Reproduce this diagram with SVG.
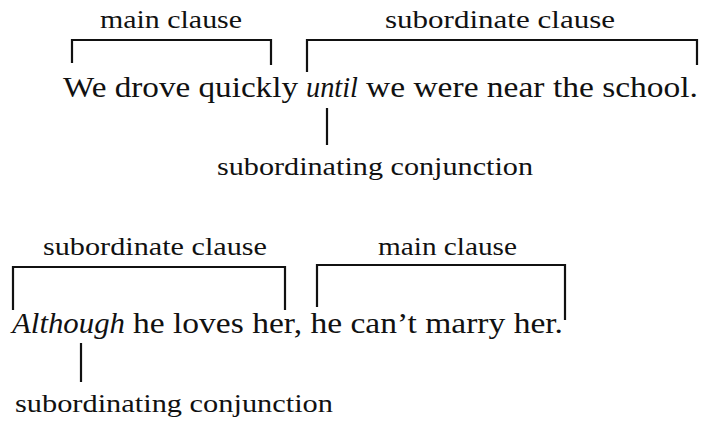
<svg xmlns="http://www.w3.org/2000/svg" width="704" height="423" viewBox="0 0 704 423">
<style>
  .lbl { font-size: 26px; }
  .sent { font-size: 30px; }
  .it { font-style: italic; }
  .br { fill: none; stroke: #111; stroke-width: 2.2; stroke-linecap: butt; stroke-linejoin: miter; }
</style>
<rect width="704" height="423" fill="#fff"/>
<g id="connectors">
  <path class="br" d="M72,63 V40 H271 V65"/>
  <path class="br" d="M307,72 V40 H697 V65"/>
  <path class="br" d="M327,108 V145"/>
  <path class="br" d="M13,310 V267 H285 V310"/>
  <path class="br" d="M317,307 V265 H565 V320"/>
  <path class="br" d="M81,343 V382"/>
</g>
<g font-family="Liberation Serif, DejaVu Serif, Noto Serif, serif" fill="#111">
<g id="label-main-1"><text class="lbl" x="100" y="28" textLength="142" lengthAdjust="spacingAndGlyphs">main clause</text></g>
<g id="label-sub-1"><text class="lbl" x="385" y="28" textLength="230" lengthAdjust="spacingAndGlyphs">subordinate clause</text></g>
<g id="sentence-1">
  <text class="sent" x="63" y="97" textLength="235" lengthAdjust="spacingAndGlyphs">We drove quickly</text>
  <text class="sent it" x="306" y="97" textLength="52" lengthAdjust="spacingAndGlyphs">until</text>
  <text class="sent" x="366" y="97" textLength="332" lengthAdjust="spacingAndGlyphs">we were near the school.</text>
</g>
<g id="label-conj-1"><text class="lbl" x="217" y="175" textLength="316" lengthAdjust="spacingAndGlyphs">subordinating conjunction</text></g>
<g id="label-sub-2"><text class="lbl" x="43" y="255" textLength="224" lengthAdjust="spacingAndGlyphs">subordinate clause</text></g>
<g id="label-main-2"><text class="lbl" x="378" y="255" textLength="139" lengthAdjust="spacingAndGlyphs">main clause</text></g>
<g id="sentence-2">
  <text class="sent it" x="12" y="333" textLength="113" lengthAdjust="spacingAndGlyphs">Although</text>
  <text class="sent" x="133" y="333" textLength="430" lengthAdjust="spacingAndGlyphs">he loves her, he can’t marry her.</text>
</g>
<g id="label-conj-2"><text class="lbl" x="15" y="412" textLength="318" lengthAdjust="spacingAndGlyphs">subordinating conjunction</text></g>
</g>
</svg>
